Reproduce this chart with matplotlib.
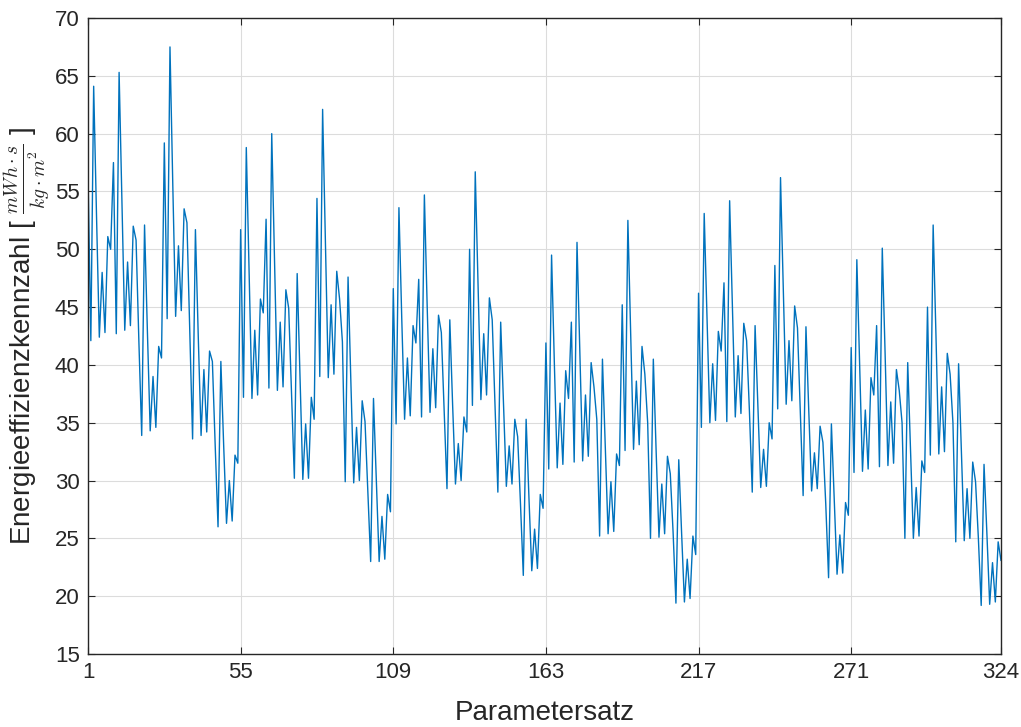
import numpy as np
import matplotlib
matplotlib.use("Agg")
import matplotlib.pyplot as plt

plt.rcParams['font.family'] = ['Liberation Sans', 'DejaVu Sans']
plt.rcParams['mathtext.fontset'] = 'cm'

# Energieeffizienzkennzahl je Parametersatz, in Bloecken zu 27 Saetzen
block_01 = [56.5, 42.1, 64.1, 53.0, 42.4, 48.0, 42.8, 51.1, 50.0,
            57.5, 42.7, 65.3, 54.0, 43.0, 48.9, 43.4, 52.0, 50.8,
            42.0, 33.9, 52.1, 43.0, 34.3, 39.0, 34.6, 41.6, 40.6]
block_02 = [59.2, 44.0, 67.5, 55.5, 44.2, 50.3, 44.7, 53.5, 52.3,
            43.0, 33.6, 51.7, 42.5, 33.9, 39.6, 34.2, 41.2, 40.3,
            33.0, 26.0, 40.3, 33.0, 26.3, 30.0, 26.5, 32.2, 31.5]
block_03 = [51.7, 37.2, 58.8, 48.0, 37.1, 43.0, 37.4, 45.7, 44.5,
            52.6, 38.0, 60.0, 49.0, 37.8, 43.7, 38.1, 46.5, 44.9,
            37.5, 30.2, 47.9, 39.0, 30.1, 34.9, 30.2, 37.2, 35.3]
block_04 = [54.4, 39.0, 62.1, 50.5, 38.9, 45.2, 39.2, 48.1, 45.7,
            42.0, 29.9, 47.6, 38.5, 29.8, 34.6, 30.0, 36.9, 35.1,
            29.0, 23.0, 37.1, 30.0, 23.0, 26.9, 23.2, 28.8, 27.3]
block_05 = [46.6, 34.9, 53.6, 44.0, 35.3, 40.6, 35.6, 43.4, 41.9,
            47.4, 35.5, 54.7, 45.0, 35.9, 41.4, 36.3, 44.3, 42.8,
            36.0, 29.3, 43.9, 36.5, 29.7, 33.2, 30.0, 35.5, 34.2]
block_06 = [50.0, 36.5, 56.7, 47.0, 37.0, 42.7, 37.4, 45.8, 43.9,
            36.5, 29.0, 43.7, 36.5, 29.5, 33.0, 29.7, 35.3, 33.8,
            28.0, 21.8, 35.3, 28.5, 22.2, 25.8, 22.4, 28.8, 27.6]
block_07 = [41.9, 31.0, 49.5, 40.0, 31.1, 36.7, 31.4, 39.5, 37.1,
            43.7, 31.6, 50.6, 41.0, 31.7, 37.4, 32.1, 40.2, 38.1,
            35.3, 25.2, 40.5, 33.0, 25.4, 29.9, 25.6, 32.3, 31.3]
block_08 = [45.2, 32.6, 52.5, 42.5, 32.7, 38.6, 33.1, 41.6, 39.2,
            35.0, 25.0, 40.5, 32.5, 25.1, 29.7, 25.4, 32.1, 30.6,
            25.5, 19.4, 31.8, 25.5, 19.5, 23.2, 19.8, 25.2, 23.6]
block_09 = [46.2, 34.6, 53.1, 44.0, 35.0, 40.1, 35.2, 42.9, 41.2,
            47.1, 35.1, 54.2, 45.0, 35.5, 40.8, 35.8, 43.6, 42.1,
            36.0, 29.0, 43.4, 36.5, 29.4, 32.7, 29.5, 35.0, 33.6]
block_10 = [48.6, 36.2, 56.2, 46.5, 36.6, 42.1, 36.9, 45.1, 43.2,
            36.0, 28.7, 43.3, 36.0, 29.1, 32.4, 29.3, 34.7, 33.3,
            28.0, 21.6, 34.9, 28.5, 21.9, 25.3, 22.0, 28.1, 27.0]
block_11 = [41.5, 30.7, 49.1, 40.0, 30.8, 36.1, 31.0, 38.9, 37.4,
            43.4, 31.2, 50.1, 41.0, 31.3, 36.8, 31.5, 39.6, 37.8,
            35.0, 25.0, 40.2, 32.5, 25.0, 29.4, 25.2, 31.7, 30.7]
block_12 = [45.0, 32.2, 52.1, 42.5, 32.3, 38.1, 32.5, 41.0, 39.2,
            35.0, 24.7, 40.1, 32.5, 24.8, 29.3, 25.0, 31.6, 29.9,
            25.0, 19.2, 31.4, 25.5, 19.3, 22.9, 19.5, 24.7, 23.1]

x_ticks = [1, 55, 109, 163, 217, 271, 324]
y_ticks = list(range(15, 75, 5))


def main():
    values = (block_01 + block_02 + block_03 + block_04 + block_05 + block_06
              + block_07 + block_08 + block_09 + block_10 + block_11 + block_12)
    x = np.arange(1, len(values) + 1)

    fig = plt.figure(figsize=(10.21, 7.27), dpi=100)
    ax = fig.add_axes([0.0862, 0.1004, 0.8942, 0.8748])

    ax.plot(x, values, color='#0072BD', linewidth=1.0)

    ax.set_xlim(1, 324)
    ax.set_ylim(15, 70)
    ax.set_xticks(x_ticks)
    ax.set_yticks(y_ticks)

    ax.grid(True, color='#dcdcdc', linewidth=0.8)
    ax.set_axisbelow(True)
    for side in ax.spines.values():
        side.set_color('#262626')
        side.set_linewidth(1.0)
    ax.tick_params(direction='in', top=True, right=True, length=5, width=0.8,
                   labelsize=16, colors='#262626', pad=6)

    ax.set_xlabel("Parametersatz", fontsize=20, color='#262626', labelpad=12)
    ax.set_ylabel(r"Energieeffizienzkennzahl [ $\frac{mWh\cdot s}{kg\cdot m^2}$ ]",
                  fontsize=20, color='#262626', labelpad=2)

    fig.savefig("out.png", dpi=100)


if __name__ == "__main__":
    main()
